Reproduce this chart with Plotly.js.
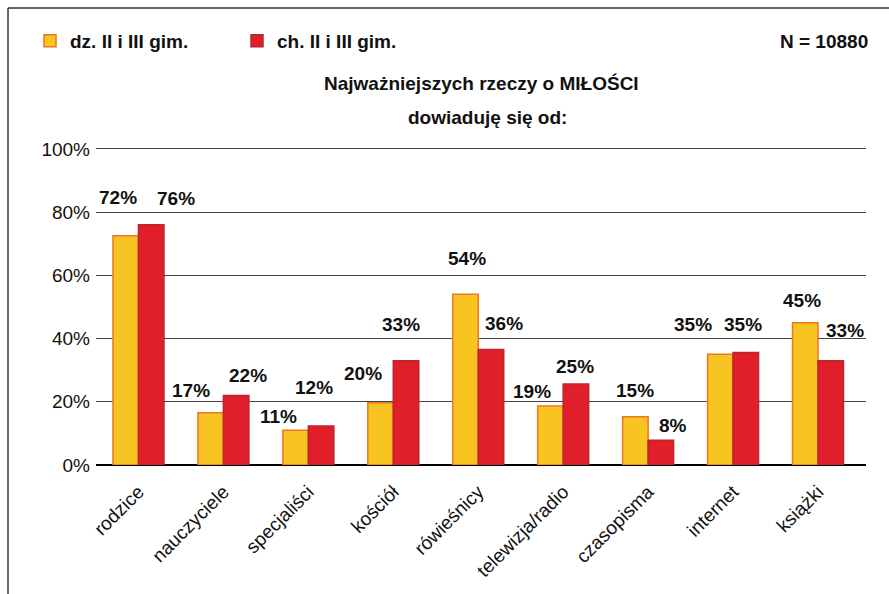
<!DOCTYPE html>
<html>
<head>
<meta charset="utf-8">
<script src="https://cdn.plot.ly/plotly-3.0.1.min.js"></script>
<style>html,body{margin:0;padding:0;background:#fff;}#chart{width:889px;height:594px;}</style>
</head>
<body>
<div id="chart"></div>
<script>
// ---- data ----
const categories = ["rodzice","nauczyciele","specjaliści","kościół","rówieśnicy","telewizja/radio","czasopisma","internet","książki"];
const seriesNames = ["dz. II i III gim.","ch. II i III gim."];
const girls = [72.5,16.5,11,19.7,54,18.7,15.3,35,45];
const boys  = [76,22,12.3,33,36.5,25.6,7.8,35.6,33];
const girlsLabels = ["72%","17%","11%","20%","54%","19%","15%","35%","45%"];
const boysLabels  = ["76%","22%","12%","33%","36%","25%","8%","35%","33%"];
const yTicks = [0,20,40,60,80,100];
const yTickText = ["0%","20%","40%","60%","80%","100%"];
const chartTitle1 = "Najważniejszych rzeczy o MIŁOŚCI";
const chartTitle2 = "dowiaduję się od:";
const sampleNote = "N = 10880";

// ---- label placement (style) ----
const girlsLift = [12,7.2,4.3,9.3,11.4,4.7,8.4,9.6,6.9];
const boysLift  = [8.2,6.3,12.3,11.6,8.3,5.7,4.6,9,9.7];
const girlsShift = [-20,-32,-30,-30,-11,-31,-13,-40,-16];
const boysShift  = [38,25,6,8,26,12,25,10,27];

const FONT = "Liberation Sans, Arial, sans-serif";
const PH = 318; // plot height in px (594 - 147 - 129)
const py = p => (465 - p) / PH; // pixel row -> paper y
const px = p => (p - 96) / 770; // pixel column -> paper x

const traces = [
  {type:"bar", name:seriesNames[0], x:categories, y:girls,
   marker:{color:"#F8C421", line:{color:"#EE7623", width:1.5}}, hoverinfo:"x+y"},
  {type:"bar", name:seriesNames[1], x:categories, y:boys,
   marker:{color:"#E01F2A", line:{color:"#B8262E", width:1.5}}, hoverinfo:"x+y"}
];

const annotations = [];
categories.forEach((c,i)=>{
  annotations.push({x:c, y:girls[i]+girlsLift[i], xref:"x", yref:"y", text:"<b>"+girlsLabels[i]+"</b>", showarrow:false,
    xshift:girlsShift[i], xanchor:"center", yanchor:"middle",
    font:{family:FONT, size:19, color:"#111"}});
  annotations.push({x:c, y:boys[i]+boysLift[i], xref:"x", yref:"y", text:"<b>"+boysLabels[i]+"</b>", showarrow:false,
    xshift:boysShift[i], xanchor:"center", yanchor:"middle",
    font:{family:FONT, size:19, color:"#111"}});
});

annotations.push({xref:"paper", yref:"paper", x:px(481), y:py(84), text:"<b>"+chartTitle1+"</b>", showarrow:false,
  xanchor:"center", yanchor:"middle", font:{family:FONT, size:19, color:"#111"}});
annotations.push({xref:"paper", yref:"paper", x:px(488), y:py(118), text:"<b>"+chartTitle2+"</b>", showarrow:false,
  xanchor:"center", yanchor:"middle", font:{family:FONT, size:19, color:"#111"}});
annotations.push({xref:"paper", yref:"paper", x:px(870), y:py(41), text:"<b>"+sampleNote+"</b>", showarrow:false,
  xanchor:"right", yanchor:"middle", font:{family:FONT, size:19, color:"#111"}});

const layout = {
  width:889, height:594,
  margin:{l:96, r:23, t:147, b:129},
  paper_bgcolor:"#fff", plot_bgcolor:"#fff",
  barmode:"group", bargap:0.4, bargroupgap:0,
  font:{family:FONT, color:"#111"},
  showlegend:true,
  legend:{orientation:"h", x:px(30), y:py(41), xanchor:"left", yanchor:"middle",
    entrywidth:162, entrywidthmode:"pixels", traceorder:"normal",
    font:{family:FONT, size:19, color:"#111", weight:"bold"}, bgcolor:"rgba(0,0,0,0)"},
  xaxis:{type:"category", tickangle:-45, tickfont:{family:FONT, size:19, color:"#111"},
    showgrid:false, ticks:"", showline:false, zeroline:false, ticklabelstandoff:11},
  yaxis:{range:[0,100.6], tickvals:yTicks, ticktext:yTickText, tickfont:{family:FONT, size:19, color:"#111"},
    showgrid:true, gridcolor:"#444", gridwidth:1, zeroline:true, zerolinecolor:"#000", zerolinewidth:1.5,
    ticks:"", showline:false, fixedrange:true, ticklabelstandoff:5},
  annotations:annotations,
  shapes:[
    {type:"line", xref:"paper", yref:"paper", x0:px(8), x1:px(889), y0:py(8), y1:py(8),
     line:{color:"#333", width:1.5}},
    {type:"line", xref:"paper", yref:"paper", x0:px(8), x1:px(8), y0:py(8), y1:py(600),
     line:{color:"#333", width:1.5}}
  ]
};

Plotly.newPlot("chart", traces, layout, {displayModeBar:false, staticPlot:true});
</script>
</body>
</html>
